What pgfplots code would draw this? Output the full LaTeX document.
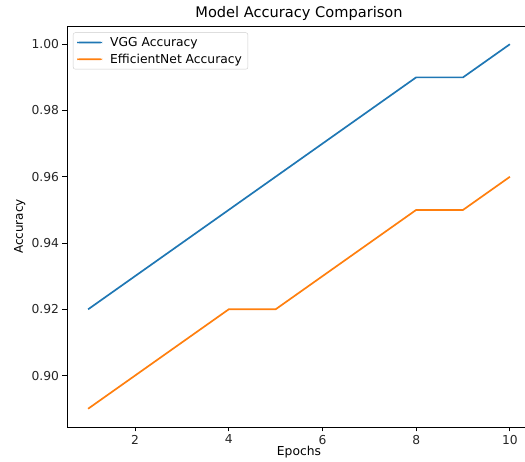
\documentclass[border=0pt]{standalone}
\usepackage{fontspec}
\setmainfont{DejaVu Sans}
\usepackage{pgfplots}
\pgfplotsset{compat=1.18}
\usetikzlibrary{calc}
\definecolor{tabblue}{HTML}{1F77B4}
\definecolor{taborange}{HTML}{FF7F0E}
\begin{document}
\begin{tikzpicture}
\begin{axis}[
  name=ax,
  scale only axis, width=464pt, height=401pt,
  xmin=0.55, xmax=10.45, ymin=0.8845, ymax=1.0055,
  xtick={2,4,6,8,10},
  ytick={0.90,0.92,0.94,0.96,0.98,1.00},
  scaled y ticks=false,
  yticklabel style={/pgf/number format/fixed, /pgf/number format/fixed zerofill, /pgf/number format/precision=2},
  /pgf/number format/assume math mode=true,
  tick align=outside, tick pos=left,
  major tick length=4.5pt,
  tick style={black, line width=0.9pt},
  axis line style={black, line width=0.9pt},
  ticklabel style={font=\fontsize{12.3}{14}\selectfont, text=black!85},
  title={Model Accuracy Comparison},
  title style={font=\fontsize{14.6}{17}\selectfont, at={(axis description cs:0.5,1)}, anchor=base, yshift=2pt, inner sep=0pt},
  xlabel={Epochs},
  xlabel style={font=\fontsize{12.3}{14}\selectfont, at={([yshift=-29pt]axis description cs:0.5,0)}, anchor=base, inner sep=0pt},
  ylabel={Accuracy},
  ylabel style={font=\fontsize{12}{14}\selectfont, at={([xshift=-44pt]axis description cs:0,0.5)}, anchor=base, inner sep=0pt},
  legend style={at={(axis description cs:0,1)}, anchor=north west, xshift=6pt, yshift=-6.5pt,
    draw=black!20, rounded corners=2pt, font=\fontsize{12.3}{13}\selectfont,
    inner xsep=4pt, inner ysep=2.5pt, row sep=2pt, column sep=6pt},
  legend cell align=left,
  legend image code/.code={\fill[#1, draw=none] (0pt,-0.9pt) rectangle (25pt,0.9pt);},
]
\addplot[tabblue, line width=1.7pt] coordinates {
(1,0.92) (2,0.93) (3,0.94) (4,0.95) (5,0.96) (6,0.97) (7,0.98) (8,0.99) (9,0.99) (10,1.00)};
\addlegendentry{VGG Accuracy}
\addplot[taborange, line width=1.7pt] coordinates {
(1,0.89) (2,0.90) (3,0.91) (4,0.92) (5,0.92) (6,0.93) (7,0.94) (8,0.95) (9,0.95) (10,0.96)};
\addlegendentry{EfficientNet Accuracy}
\end{axis}
\pgfresetboundingbox
\path[use as bounding box] ($(ax.south west)+(-67pt,-35pt)$) rectangle ($(ax.south west)+(458pt,427pt)$);
\end{tikzpicture}
\end{document}
